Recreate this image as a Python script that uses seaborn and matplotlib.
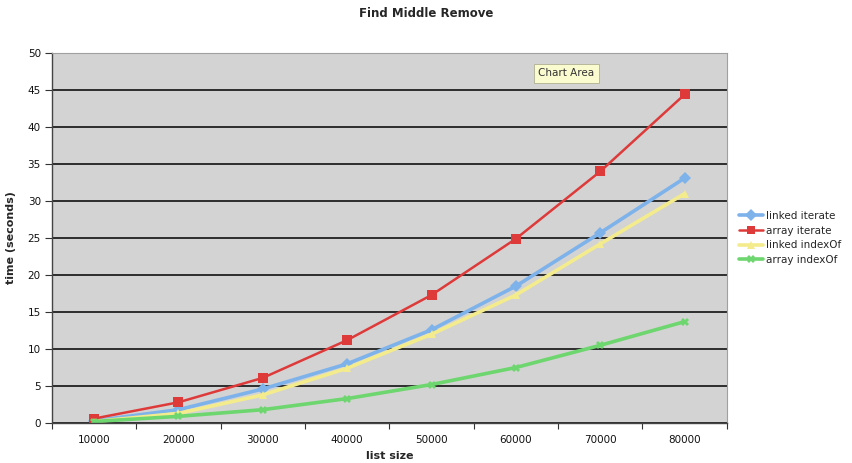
import numpy as np
import pandas as pd
import seaborn as sns
from matplotlib import pyplot as plt

# Données
list_size = ['10000', '20000', '30000', '40000', '50000', '60000', '70000', '80000']
linked_iterate = [0.3, 1.8, 4.6, 8.0, 12.6, 18.5, 25.7, 33.1]
array_iterate = [0.6, 2.8, 6.1, 11.2, 17.3, 24.9, 34.0, 44.4]
linked_indexof = [0.2, 1.3, 3.8, 7.4, 12.0, 17.3, 24.2, 31.0]
array_indexof = [0.2, 0.9, 1.8, 3.3, 5.2, 7.5, 10.5, 13.7]

series = ['linked iterate', 'array iterate', 'linked indexOf', 'array indexOf']
colors = ['#7eb2ea', '#de3a3a', '#f4ec8c', '#6ed66e']
markers = ['D', 's', '^', 'X']

df = pd.DataFrame({
    'list size': list_size * 4,
    'time (seconds)': linked_iterate + array_iterate + linked_indexof + array_indexof,
    'serie': np.repeat(series, len(list_size)),
})

sns.set_style('white')
plt.rcParams['font.family'] = ['DejaVu Sans']

fig = plt.figure(figsize=(8.52, 4.63), dpi=100)
ax = fig.add_axes([0.061, 0.0864, 0.792, 0.799])
ax.set_facecolor('#d3d3d3')

sns.lineplot(data=df, x='list size', y='time (seconds)', hue='serie', style='serie',
             hue_order=series, style_order=series, palette=colors,
             markers=markers, dashes=False, linewidth=2.6, markersize=6,
             markeredgewidth=0, sort=False, ax=ax)

# la série "array iterate" est plus fine, avec des carrés plus gros
ax.lines[1].set_linewidth(1.8)
ax.lines[1].set_markersize(7)

ax.set_xlim(-0.5, 7.5)
ax.set_ylim(0, 50)
ax.set_yticks(range(0, 51, 5))
ax.yaxis.grid(True, color='black', linewidth=1.1)
ax.set_axisbelow(True)

# tick marks between categories, as in Excel
ax.set_xticks(np.arange(-0.5, 8, 1), minor=True)
ax.tick_params(axis='x', which='major', length=0, labelsize=7.5, pad=9, labelcolor='#111111')
ax.tick_params(axis='x', which='minor', length=4, width=0.8, color='#333333', direction='out')
ax.tick_params(axis='y', length=5, width=0.8, color='#333333', direction='out', labelsize=7.5,
               pad=3, labelcolor='#111111')
ax.xaxis.set_ticks_position('bottom')
ax.yaxis.set_ticks_position('left')

for side in ['top', 'right']:
    ax.spines[side].set_color('#a0a0a0')
    ax.spines[side].set_linewidth(0.8)
for side in ['left', 'bottom']:
    ax.spines[side].set_color('#444444')
    ax.spines[side].set_linewidth(1.0)

ax.set_xlabel('list size', fontsize=8, fontweight='bold', labelpad=4)
ax.set_ylabel('time (seconds)', fontsize=8, fontweight='bold', labelpad=8)
fig.suptitle('Find Middle Remove', fontsize=8.5, fontweight='bold', x=0.5, y=0.985)

leg = ax.legend(loc='center left', bbox_to_anchor=(1.0, 0.5), frameon=False,
                fontsize=7.5, handlelength=2.3, handletextpad=0.3, labelspacing=0.45,
                borderaxespad=0.8)
leg.get_lines()[1].set_linewidth(1.8)

# infobulle "Chart Area" de la capture
fig.text(0.632, 0.835, 'Chart Area', fontsize=7.5, color='#333333',
         bbox=dict(boxstyle='square,pad=0.45', facecolor='#fbfbd0', edgecolor='#b0b090', linewidth=0.6))

fig.savefig('out.png', dpi=100)
plt.close()
